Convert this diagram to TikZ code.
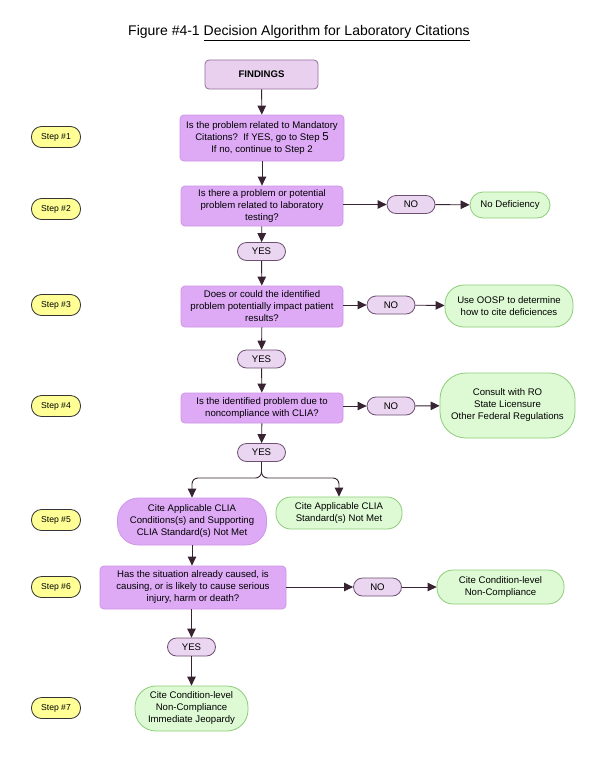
\documentclass[tikz,border=0pt]{standalone}
\usepackage{fontspec}
\setmainfont{Liberation Sans}
\usetikzlibrary{arrows.meta}

\definecolor{askfill}{RGB}{222,170,246}
\definecolor{askline}{RGB}{205,150,232}
\definecolor{topfill}{RGB}{232,208,238}
\definecolor{topline}{RGB}{150,110,160}
\definecolor{pillfill}{RGB}{234,214,240}
\definecolor{pillline}{RGB}{110,80,115}
\definecolor{okfill}{RGB}{222,250,212}
\definecolor{okline}{RGB}{140,205,120}
\definecolor{stepfill}{RGB}{255,255,150}
\definecolor{linecol}{RGB}{55,35,50}

\begin{document}
\begin{tikzpicture}[x=1pt,y=-1pt,
    every node/.style={font=\fontsize{9.6}{12}\selectfont, align=center, inner sep=0pt},
    start/.style={draw=topline, fill=topfill, rounded corners=4pt, line width=0.8pt},
    ask/.style={draw=askline, fill=askfill, rounded corners=4pt, line width=0.8pt},
    pill/.style={draw=pillline, fill=pillfill, rounded corners=9pt, line width=0.8pt,
      minimum width=48, minimum height=18},
    result/.style={draw=okline, fill=okfill, line width=0.8pt},
    steptag/.style={draw=black!80, fill=stepfill, rounded corners=10pt, line width=0.8pt,
      minimum width=49, minimum height=21, font=\fontsize{8.6}{10}\selectfont},
    flow/.style={draw=linecol, line width=0.9pt, -{Triangle[length=9pt,width=8.5pt]}}]

    \useasboundingbox (0,0) rectangle (609,784);
    \fill[white] (0,0) rectangle (609,784);

    % the title
    \node[font=\fontsize{14}{16}\selectfont] (title) at (299,33)
      {Figure \#4-1 \underline{Decision Algorithm for Laboratory Citations}};

    % the steps on the left
    \node[steptag] (s1) at (56,137) {Step \#1};
    \node[steptag] (s2) at (56,209) {Step \#2};
    \node[steptag] (s3) at (56,305) {Step \#3};
    \node[steptag] (s4) at (56,406) {Step \#4};
    \node[steptag] (s5) at (56,520) {Step \#5};
    \node[steptag] (s6) at (56,587) {Step \#6};
    \node[steptag] (s7) at (56,708) {Step \#7};

    % the main column
    \node[start, minimum width=113, minimum height=29] (findings) at (261.5,74.5) {\textbf{FINDINGS}};
    \node[ask, minimum width=164, minimum height=46] (q1) at (262,138)
      {Is the problem related to Mandatory\\Citations?\ \ If YES, go to Step {\fontsize{11.5}{12}\selectfont 5}\\If no, continue to Step 2};
    \node[ask, minimum width=162, minimum height=40] (q2) at (262,206)
      {Is there a problem or potential\\problem related to laboratory\\testing?};
    \node[pill] (no2) at (411,204.5) {NO};
    \node[result, rounded corners=13pt, minimum width=80, minimum height=26] (nodef) at (510,205) {No Deficiency};
    \node[pill] (yes2) at (261.5,251.5) {YES};

    \node[ask, minimum width=162, minimum height=41] (q3) at (262,306.5)
      {Does or could the identified\\problem potentially impact patient\\results?};
    \node[pill] (no3) at (391,305) {NO};
    \node[result, rounded corners=19pt, minimum width=128, minimum height=42] (oosp) at (509,306)
      {Use OOSP to determine\\how to cite deficiences};
    \node[pill] (yes3) at (261.5,359) {YES};

    \node[ask, minimum width=162, minimum height=30] (q4) at (262,408)
      {Is the identified problem due to\\noncompliance with CLIA?};
    \node[pill] (no4) at (391,406) {NO};
    \node[result, rounded corners=26pt, minimum width=135, minimum height=65] (consult) at (507.5,405.5)
      {Consult with RO\\State Licensure\\Other Federal Regulations};
    \node[pill] (yes4) at (261.5,452.5) {YES};

    % the two citations
    \coordinate (split) at (261.5,478);
    \node[ask, rounded corners=21pt, minimum width=149, minimum height=47] (cite5) at (192,521.5)
      {Cite Applicable CLIA\\Conditions(s) and Supporting\\CLIA Standard(s) Not Met};
    \node[result, rounded corners=15pt, minimum width=126, minimum height=32] (std5) at (339,513)
      {Cite Applicable CLIA\\Standard(s) Not Met};

    \node[ask, minimum width=186, minimum height=43] (q6) at (193,587.5)
      {Has the situation already caused, is\\causing, or is likely to cause serious\\injury, harm or death?};
    \node[pill] (no6) at (377.5,587) {NO};
    \node[result, rounded corners=16pt, minimum width=127, minimum height=34] (cond6) at (500.5,587)
      {Cite Condition-level\\Non-Compliance};
    \node[pill] (yes6) at (191.5,647) {YES};
    \node[result, rounded corners=21pt, minimum width=113, minimum height=45] (ij7) at (191.5,708.5)
      {Cite Condition-level\\Non-Compliance\\Immediate Jeopardy};

    % the arrows
    \draw[flow] (findings) -- (q1);
    \draw[flow] (q1) -- (q2);
    \draw[flow] (q2) -- (yes2);
    \draw[flow] (q2.east |- no2) -- (no2);
    \draw[flow] (no2) -- (nodef);
    \draw[flow] (yes2) -- (q3);
    \draw[flow] (q3.east |- no3) -- (no3);
    \draw[flow] (no3) -- (oosp);
    \draw[flow] (q3) -- (yes3);
    \draw[flow] (yes3) -- (q4);
    \draw[flow] (q4.east |- no4) -- (no4);
    \draw[flow] (no4) -- (consult);
    \draw[flow] (q4) -- (yes4);
    \draw[flow, rounded corners=6pt] (yes4) -- (split) -| (cite5);
    \draw[flow, rounded corners=6pt] (yes4) -- (split) -| (std5);
    \draw[flow] (cite5) -- (cite5 |- q6.north);
    \draw[flow] (q6.east |- no6) -- (no6);
    \draw[flow] (no6) -- (cond6);
    \draw[flow] (q6.south -| yes6) -- (yes6);
    \draw[flow] (yes6) -- (ij7);
\end{tikzpicture}
\end{document}
